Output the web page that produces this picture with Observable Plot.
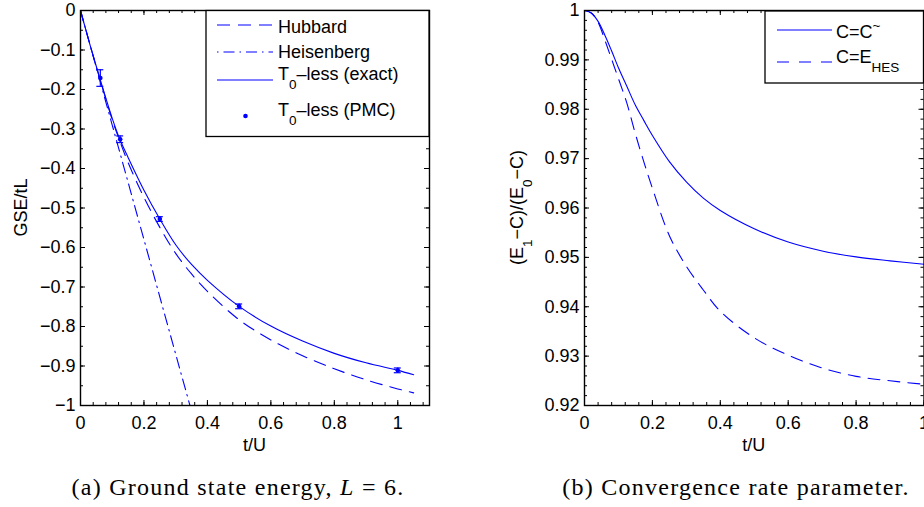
<!DOCTYPE html>
<html><head><meta charset="utf-8">
<script src="https://cdn.jsdelivr.net/npm/d3@7"></script>
<script src="https://cdn.jsdelivr.net/npm/@observablehq/plot@0.6"></script>
<style>
html,body{margin:0;padding:0;background:#fff;overflow:hidden;width:924px;height:507px;}
#wrap{position:relative;width:924px;height:507px;overflow:hidden;background:#fff;}
#pa{position:absolute;left:0;top:0;width:480px;height:460px;}
#pb{position:absolute;left:480px;top:0;width:480px;height:460px;}
#pa svg,#pb svg{max-width:none !important;width:480px;height:460px;}
.cap{position:absolute;top:475px;width:500px;text-align:center;font-family:"Liberation Serif","Times New Roman",serif;font-size:24px;line-height:24px;letter-spacing:1.25px;color:#000;white-space:nowrap;}
</style></head><body>
<div id="wrap"><div id="pa"></div><div id="pb"></div>
<div class="cap" style="left:-12px">(a) Ground state energy, <i>L</i> = 6.</div>
<div class="cap" style="left:486px">(b) Convergence rate parameter.</div>
</div>
<script>
// ---------- Panel (a) data ----------
const tA       = [0, 0.03, 0.0625, 0.1, 0.125, 0.15, 0.2, 0.25, 0.3, 0.35, 0.4, 0.5, 0.6, 0.7, 0.8, 0.9, 1.0, 1.05];
const hubbard  = [0, -0.087, -0.177, -0.277, -0.333, -0.385, -0.473, -0.549, -0.615, -0.667, -0.711, -0.783, -0.834, -0.874, -0.907, -0.935, -0.958, -0.968];
const t0exact  = [0, -0.087, -0.176, -0.273, -0.328, -0.372, -0.455, -0.528, -0.593, -0.643, -0.683, -0.749, -0.799, -0.837, -0.868, -0.892, -0.911, -0.922];
const heisT    = [0, 0.1, 0.2, 0.3, 0.345];
const heisE    = [0, -0.29, -0.58, -0.87, -1.0];
const pmcT     = [0.0625, 0.125, 0.25, 0.5, 1.0];
const pmcE     = [-0.171, -0.326, -0.528, -0.749, -0.911];
const pmcErr   = [0.021, 0.0085, 0.006, 0.006, 0.006];
const xTicksA  = [0, 0.2, 0.4, 0.6, 0.8, 1];
const yTicksA  = [0, -0.1, -0.2, -0.3, -0.4, -0.5, -0.6, -0.7, -0.8, -0.9, -1];
const legendA  = ["Hubbard", "Heisenberg", "T0-less (exact)", "T0-less (PMC)"];

// ---------- Panel (b) data ----------
const tB       = [0, 0.02, 0.04, 0.06, 0.08, 0.1, 0.125, 0.15, 0.175, 0.2, 0.25, 0.3, 0.35, 0.4, 0.5, 0.6, 0.7, 0.8, 0.9, 1.0];
const cTilde   = [1.0, 0.9995, 0.9978, 0.9950, 0.9918, 0.9884, 0.9846, 0.9808, 0.9777, 0.9747, 0.9694, 0.9653, 0.9620, 0.9595, 0.9558, 0.9531, 0.9513, 0.9501, 0.9493, 0.9486];
const cHes     = [1.0, 0.9995, 0.9976, 0.9940, 0.9901, 0.9862, 0.9812, 0.9750, 0.9693, 0.9640, 0.9544, 0.9482, 0.9434, 0.9391, 0.9337, 0.9302, 0.9276, 0.9259, 0.9250, 0.9243];
const xTicksB  = [0, 0.2, 0.4, 0.6, 0.8, 1];
const yTicksB  = [0.92, 0.93, 0.94, 0.95, 0.96, 0.97, 0.98, 0.99, 1];

const BLUE = "#0000ff";
const FONT = "'Liberation Sans', Arial, Helvetica, sans-serif";
const fmt = d3.format("");
const rnd = v => Math.round(v * 1e6) / 1e6;
const rangeInc = (a, b, s) => d3.range(0, Math.round((b - a) / s) + 1).map(i => rnd(a + i * s));

function tickMarks(xs, ys, len, plotW, plotH, sw) {
  return [
    Plot.tickX(xs, {x: d => d, insetTop: plotH - len, stroke: "black", strokeWidth: sw}),
    Plot.tickX(xs, {x: d => d, insetBottom: plotH - len, stroke: "black", strokeWidth: sw}),
    Plot.tickY(ys, {y: d => d, insetRight: plotW - len, stroke: "black", strokeWidth: sw}),
    Plot.tickY(ys, {y: d => d, insetLeft: plotW - len, stroke: "black", strokeWidth: sw})
  ];
}

// text with sub/superscript parts
function richText(g, x, y, parts, opts = {}) {
  const t = g.append("text").attr("x", x).attr("y", y)
    .attr("font-family", FONT).attr("font-size", 18).attr("fill", "black")
    .attr("text-anchor", opts.anchor || "start");
  if (opts.transform) t.attr("transform", opts.transform);
  let shift = 0;
  for (const p of parts) {
    const want = p.sub ? 9 : p.sup ? -8 : 0;
    const s = t.append("tspan").text(p.t).attr("dy", want - shift);
    if (p.sub || p.sup) s.attr("font-size", 13.5);
    shift = want;
  }
  return t;
}

const baseStyle = {fontFamily: FONT, fontSize: "18px", color: "black", background: "white", maxWidth: "none", overflow: "visible"};

// ---------- Panel (a) ----------
const WA = 480, HA = 460, mLA = 80, mRA = 51, mTA = 10, mBA = 55;
const pwA = WA - mLA - mRA, phA = HA - mTA - mBA;
const hubData = tA.map((t, i) => ({t, v: hubbard[i]}));
const exData  = tA.map((t, i) => ({t, v: t0exact[i]}));
const heiData = heisT.map((t, i) => ({t, v: heisE[i]}));
const pmcData = pmcT.map((t, i) => ({t, v: pmcE[i], e: pmcErr[i]}));

const svgA = Plot.plot({
  width: WA, height: HA, marginLeft: mLA, marginRight: mRA, marginTop: mTA, marginBottom: mBA,
  x: {domain: [0, 1.1]}, y: {domain: [-1, 0]},
  style: baseStyle,
  marks: [
    Plot.line(heiData, {x: "t", y: "v", stroke: BLUE, strokeWidth: 1.1, strokeDasharray: "11,5,1.5,5"}),
    Plot.line(hubData, {x: "t", y: "v", stroke: BLUE, strokeWidth: 1.1, strokeDasharray: "12,8", curve: "catmull-rom"}),
    Plot.line(exData,  {x: "t", y: "v", stroke: BLUE, strokeWidth: 1.1, curve: "catmull-rom"}),
    Plot.ruleX(pmcData, {x: "t", y1: d => d.v - d.e, y2: d => d.v + d.e, stroke: BLUE, strokeWidth: 1.2}),
    Plot.ruleY(pmcData, {y: d => d.v + d.e, x1: d => d.t - 0.011, x2: d => d.t + 0.011, stroke: BLUE, strokeWidth: 1.2}),
    Plot.ruleY(pmcData, {y: d => d.v - d.e, x1: d => d.t - 0.011, x2: d => d.t + 0.011, stroke: BLUE, strokeWidth: 1.2}),
    Plot.dot(pmcData, {x: "t", y: "v", r: 2.3, fill: BLUE, stroke: "none"}),
    ...tickMarks(rangeInc(0, 1.08, 0.04), rangeInc(-1, 0, 0.05), 3, pwA, phA, 1),
    ...tickMarks(xTicksA, yTicksA, 5, pwA, phA, 1),
    Plot.frame({stroke: "black", strokeWidth: 1.4}),
    Plot.axisX({ticks: xTicksA, tickSize: 0, tickPadding: 11, tickFormat: fmt, label: null, fontSize: 18}),
    Plot.axisY({ticks: yTicksA, tickSize: 0, tickPadding: 5, tickFormat: fmt, label: null, fontSize: 18})
  ]
});
document.getElementById("pa").appendChild(svgA);
{
  const g = d3.select(svgA).append("g");
  richText(g, mLA + pwA / 2, 451, [{t: "t/U"}], {anchor: "middle"});
  richText(g, 0, 0, [{t: "GSE/tL"}], {anchor: "middle", transform: `translate(26.5,${mTA + phA / 2}) rotate(-90)`});
  // legend
  g.append("rect").attr("x", 206).attr("y", 10.5).attr("width", mLA + pwA - 206).attr("height", 126)
    .attr("fill", "white").attr("stroke", "black").attr("stroke-width", 1.3);
  const lx1 = 217, lx2 = 273, tx = 278;
  g.append("line").attr("x1", lx1).attr("x2", lx2).attr("y1", 25).attr("y2", 25)
    .attr("stroke", BLUE).attr("stroke-width", 1.1).attr("stroke-dasharray", "13,8");
  richText(g, tx, 33, [{t: legendA[0]}]);
  g.append("line").attr("x1", lx1).attr("x2", lx2).attr("y1", 52).attr("y2", 52)
    .attr("stroke", BLUE).attr("stroke-width", 1.1).attr("stroke-dasharray", "1.5,5,11,5");
  richText(g, tx, 58, [{t: legendA[1]}]);
  g.append("line").attr("x1", lx1).attr("x2", lx2).attr("y1", 80).attr("y2", 80)
    .attr("stroke", BLUE).attr("stroke-width", 1.1);
  richText(g, tx, 80, [{t: "T"}, {t: "0", sub: true}, {t: "\u2013less (exact)"}]);
  g.append("circle").attr("cx", 245.5).attr("cy", 116).attr("r", 2.3).attr("fill", BLUE);
  richText(g, tx, 116, [{t: "T"}, {t: "0", sub: true}, {t: "\u2013less (PMC)"}]);
}

// ---------- Panel (b) ----------
const WB = 480, HB = 460, mLB = 104, mRB = 36.5, mTB = 10, mBB = 55;
const pwB = WB - mLB - mRB, phB = HB - mTB - mBB;
const tilData = tB.map((t, i) => ({t, v: cTilde[i]}));
const hesData = tB.map((t, i) => ({t, v: cHes[i]}));

const svgB = Plot.plot({
  width: WB, height: HB, marginLeft: mLB, marginRight: mRB, marginTop: mTB, marginBottom: mBB,
  x: {domain: [0, 1]}, y: {domain: [0.92, 1]},
  style: baseStyle,
  marks: [
    Plot.line(hesData, {x: "t", y: "v", stroke: BLUE, strokeWidth: 1.1, strokeDasharray: "12,8", curve: "catmull-rom"}),
    Plot.line(tilData, {x: "t", y: "v", stroke: BLUE, strokeWidth: 1.1, curve: "catmull-rom"}),
    ...tickMarks(rangeInc(0, 1, 0.04), rangeInc(0.92, 1, 0.002), 3, pwB, phB, 1),
    ...tickMarks(xTicksB, yTicksB, 5, pwB, phB, 1),
    Plot.frame({stroke: "black", strokeWidth: 1.4}),
    Plot.axisX({ticks: xTicksB, tickSize: 0, tickPadding: 11, tickFormat: fmt, label: null, fontSize: 18}),
    Plot.axisY({ticks: yTicksB, tickSize: 0, tickPadding: 5, tickFormat: fmt, label: null, fontSize: 18})
  ]
});
document.getElementById("pb").appendChild(svgB);
{
  const g = d3.select(svgB).append("g");
  richText(g, mLB + pwB / 2, 451, [{t: "t/U"}], {anchor: "middle"});
  richText(g, 0, 0, [{t: "(E"}, {t: "1", sub: true}, {t: "\u2212C)/(E"}, {t: "0", sub: true}, {t: "\u2212C)"}],
    {anchor: "middle", transform: `translate(43,${mTB + phB / 2}) rotate(-90)`});
  // legend
  const bx = 285;
  g.append("rect").attr("x", bx).attr("y", 11).attr("width", mLB + pwB - bx).attr("height", 72)
    .attr("fill", "white").attr("stroke", "black").attr("stroke-width", 1.3);
  g.append("line").attr("x1", 297).attr("x2", 352).attr("y1", 30).attr("y2", 30)
    .attr("stroke", BLUE).attr("stroke-width", 1.1);
  richText(g, 356, 38, [{t: "C=C"}, {t: "~", sup: true}]);
  g.append("line").attr("x1", 297).attr("x2", 352).attr("y1", 62).attr("y2", 62)
    .attr("stroke", BLUE).attr("stroke-width", 1.1).attr("stroke-dasharray", "12,10");
  richText(g, 356, 63, [{t: "C=E"}, {t: "HES", sub: true}]);
}
</script>
</body></html>
